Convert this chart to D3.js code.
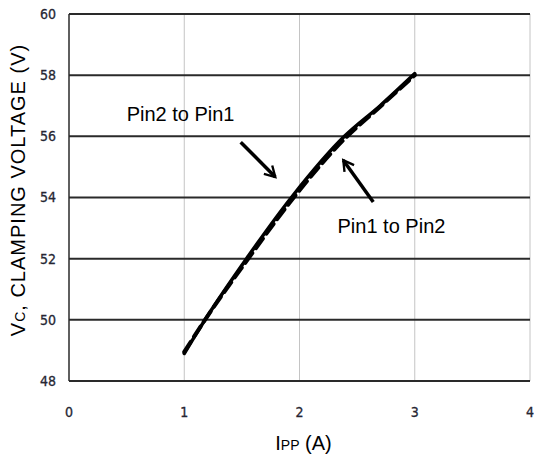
<!DOCTYPE html>
<html>
<head>
<meta charset="utf-8">
<script src="https://cdn.jsdelivr.net/npm/d3@7"></script>
<style>
  body { margin: 0; background: #fff; }
  .tick-label { font-family: "DejaVu Sans Condensed", "DejaVu Sans", sans-serif; font-size: 14px; fill: #262633; stroke: #262633; stroke-width: 0.3; }
  .title { font-family: "Liberation Sans", Arial, sans-serif; font-size: 20px; fill: #000; }
</style>
</head>
<body>
<div id="chart"></div>
<script>
// Data
const xTicks = [0, 1, 2, 3, 4];
const yTicks = [48, 50, 52, 54, 56, 58, 60];

// Pin2 to Pin1 (solid)
const pin2to1I = [1.0, 1.18, 1.54, 1.94, 2.39, 2.7, 3.0];
const pin2to1V = [48.9, 50.0, 52.0, 54.05, 56.0, 57.0, 58.05];
// Pin1 to Pin2 (dashed)
const pin1to2I = [1.0, 1.18, 1.55, 1.95, 2.40, 2.7, 3.0];
const pin1to2V = [48.95, 50.0, 51.97, 54.0, 55.95, 56.97, 58.0];

const notes = [
  { text: "Pin2 to Pin1", tx: 0.50, ty: 56.5, x1: 1.49, y1: 55.81, x2: 1.79, y2: 54.67 },
  { text: "Pin1 to Pin2", tx: 2.33, ty: 52.84, x1: 2.64, y1: 53.85, x2: 2.38, y2: 55.22 }
];

const W = 534, H = 459;
const margin = { top: 14, right: 4, bottom: 78, left: 69 };
const width = W - margin.left - margin.right;
const height = H - margin.top - margin.bottom;

const svg = d3.select("#chart").append("svg")
  .attr("width", W)
  .attr("height", H);

svg.append("defs").append("marker")
  .attr("id", "arrow")
  .attr("viewBox", "0 0 10 10")
  .attr("refX", 8).attr("refY", 5)
  .attr("markerWidth", 4.2).attr("markerHeight", 4.2)
  .attr("orient", "auto")
  .append("path")
  .attr("d", "M1,1 L8,5 L1,9")
  .attr("fill", "none")
  .attr("stroke", "#000")
  .attr("stroke-width", 1.6);

const g = svg.append("g")
  .attr("transform", `translate(${margin.left},${margin.top})`);

const x = d3.scaleLinear().domain([0, 4]).range([0, width]);
const y = d3.scaleLinear().domain([48, 60]).range([height, 0]);

// vertical grid (light)
g.selectAll(".vgrid")
  .data(xTicks.filter(d => d > 0))
  .join("line")
  .attr("x1", d => x(d)).attr("x2", d => x(d))
  .attr("y1", 0).attr("y2", height)
  .attr("stroke", "#c4c4c4")
  .attr("stroke-width", 1);

// horizontal grid (dark)
g.selectAll(".hgrid")
  .data(yTicks)
  .join("line")
  .attr("x1", 0).attr("x2", width)
  .attr("y1", d => y(d)).attr("y2", d => y(d))
  .attr("stroke", "#2a2a2a")
  .attr("stroke-width", 2);

// left axis line
g.append("line")
  .attr("x1", 0).attr("x2", 0)
  .attr("y1", 0).attr("y2", height)
  .attr("stroke", "#2a2a2a")
  .attr("stroke-width", 1.5);

// tick labels
g.selectAll(".ylab")
  .data(yTicks)
  .join("text")
  .attr("class", "tick-label")
  .attr("x", -13)
  .attr("y", d => y(d))
  .attr("dy", "0.35em")
  .attr("text-anchor", "end")
  .text(d => d);

g.selectAll(".xlab")
  .data(xTicks)
  .join("text")
  .attr("class", "tick-label")
  .attr("x", d => x(d))
  .attr("y", height + 31)
  .attr("dy", "0.35em")
  .attr("text-anchor", "middle")
  .text(d => d);

// curves
const line = d3.line()
  .x(d => x(d[0]))
  .y(d => y(d[1]))
  .curve(d3.curveMonotoneX);

g.append("path")
  .datum(d3.zip(pin2to1I, pin2to1V))
  .attr("d", line)
  .attr("fill", "none")
  .attr("stroke", "#000")
  .attr("stroke-width", 3.5)
  .attr("stroke-linecap", "round");

g.append("path")
  .datum(d3.zip(pin1to2I, pin1to2V))
  .attr("d", line)
  .attr("fill", "none")
  .attr("stroke", "#000")
  .attr("stroke-width", 4)
  .attr("stroke-dasharray", "12,6")
  .attr("stroke-linecap", "round");

// annotations
g.selectAll(".note-text")
  .data(notes)
  .join("text")
  .attr("class", "title")
  .attr("x", d => x(d.tx))
  .attr("y", d => y(d.ty))
  .text(d => d.text);

g.selectAll(".note-arrow")
  .data(notes)
  .join("line")
  .attr("x1", d => x(d.x1)).attr("y1", d => y(d.y1))
  .attr("x2", d => x(d.x2)).attr("y2", d => y(d.y2))
  .attr("stroke", "#000")
  .attr("stroke-width", 3.5)
  .attr("marker-end", "url(#arrow)");

// axis titles
const xt = svg.append("text")
  .attr("class", "title")
  .attr("x", margin.left + x(2) + 4)
  .attr("y", 450)
  .attr("text-anchor", "middle");
xt.append("tspan").text("I");
xt.append("tspan").attr("font-size", "14px").text("PP");
xt.append("tspan").text(" (A)");

const yt = svg.append("text")
  .attr("class", "title")
  .attr("transform", `translate(25,190) rotate(-90)`)
  .attr("text-anchor", "middle")
  .style("letter-spacing", "1px");
yt.append("tspan").text("V");
yt.append("tspan").attr("font-size", "14px").text("C");
yt.append("tspan").text(", CLAMPING VOLTAGE (V)");
</script>
</body>
</html>
